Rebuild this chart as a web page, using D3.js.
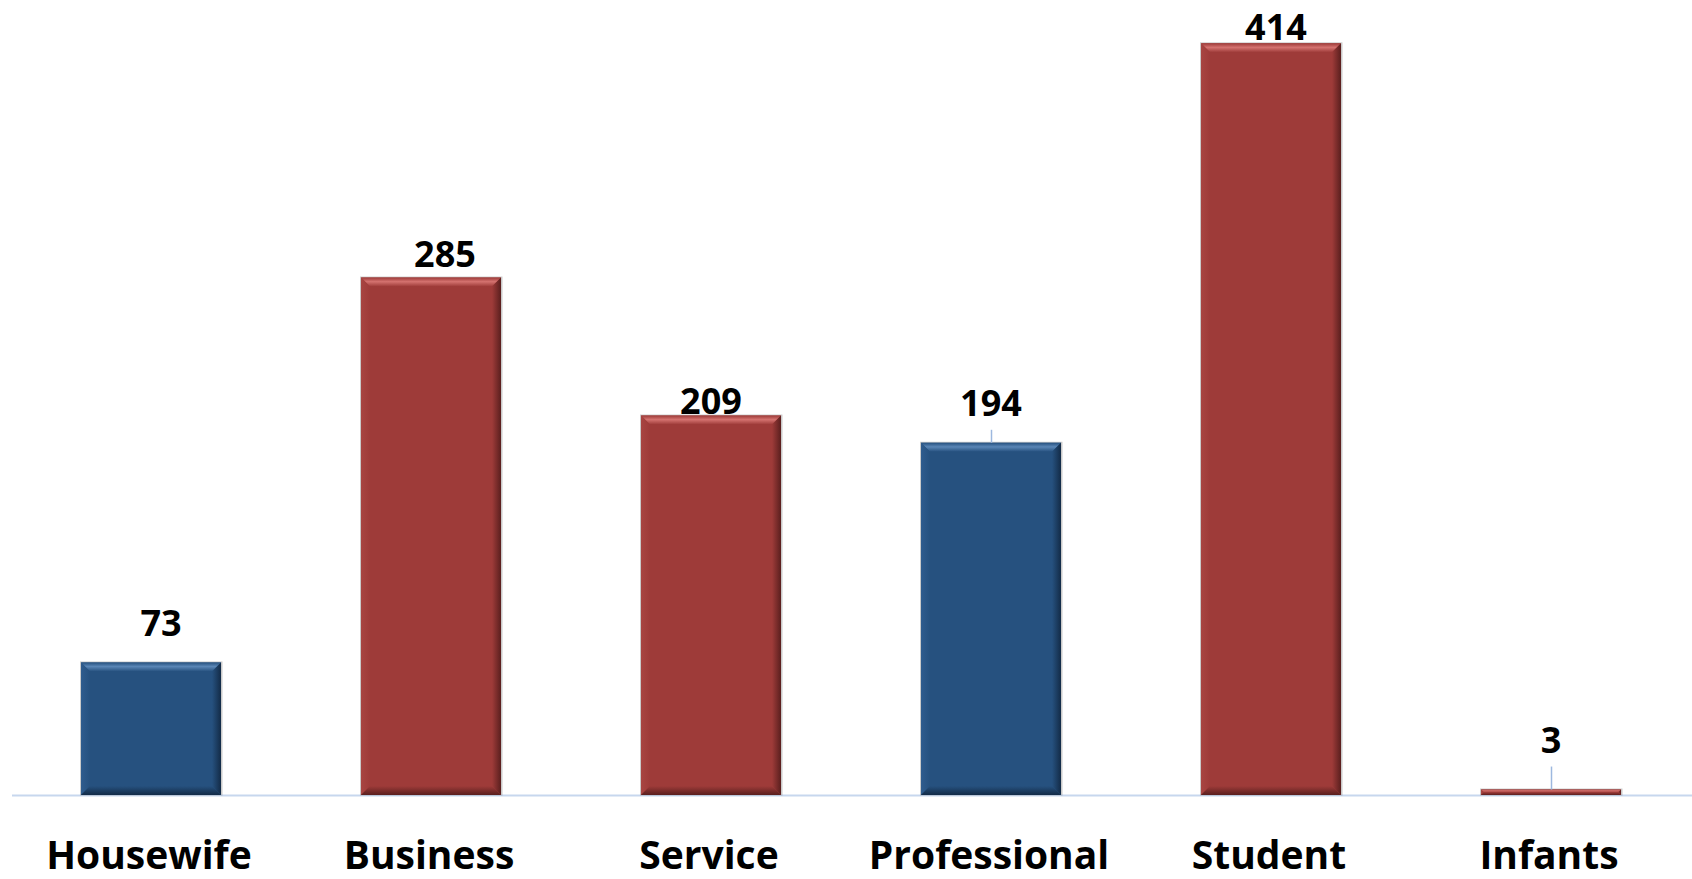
<!DOCTYPE html>
<html>
<head>
<meta charset="utf-8">
<script src="https://cdn.jsdelivr.net/npm/d3@7/dist/d3.min.js"></script>
<style>
  html, body { margin: 0; padding: 0; background: #ffffff; }
  svg { display: block; }
  text { font-family: "Open Sans", "DejaVu Sans", sans-serif; font-weight: 700; fill: #000; }
</style>
</head>
<body>
<svg id="chart" width="1692" height="879"></svg>
<script>
// ---- data ----
const categories = ["Housewife", "Business", "Service", "Professional", "Student", "Infants"];
const values = [73, 285, 209, 194, 414, 3];
const colorGroup = ["blue", "red", "red", "blue", "red", "red"];

// ---- label placement tweaks (pixels, styling only) ----
const labelGap = [26, 11, 2, 27, 3, 37];
const labelDx = [10, 14, 0, 0, 5, 0];
const leaderLine = [false, false, false, true, false, true];

const W = 1692, H = 879;
const svg = d3.select("#chart");

const x = d3.scaleBand().domain(categories).range([11, 1691]).paddingInner(0.5).paddingOuter(0.25);
const y = d3.scaleLinear().domain([0, 450]).range([795, -22]);

const palette = {
  blue: { main: "#26517F", light: "#5A86B6", lightSide: "#2F5C8E", dark: "#132B47" },
  red:  { main: "#9E3B39", light: "#D4726F", lightSide: "#A84542", dark: "#5A1F1E" }
};

const defs = svg.append("defs");
Object.entries(palette).forEach(([k, c]) => {
  const g1 = defs.append("linearGradient").attr("id", "top-" + k).attr("x1", 0).attr("y1", 0).attr("x2", 0).attr("y2", 1);
  g1.append("stop").attr("offset", "0%").attr("stop-color", c.main);
  g1.append("stop").attr("offset", "45%").attr("stop-color", c.light);
  g1.append("stop").attr("offset", "100%").attr("stop-color", c.main);
  const g2 = defs.append("linearGradient").attr("id", "left-" + k).attr("x1", 0).attr("y1", 0).attr("x2", 1).attr("y2", 0);
  g2.append("stop").attr("offset", "0%").attr("stop-color", c.lightSide);
  g2.append("stop").attr("offset", "100%").attr("stop-color", c.main);
  const g3 = defs.append("linearGradient").attr("id", "right-" + k).attr("x1", 0).attr("y1", 0).attr("x2", 1).attr("y2", 0);
  g3.append("stop").attr("offset", "0%").attr("stop-color", c.main);
  g3.append("stop").attr("offset", "100%").attr("stop-color", c.dark);
  const g4 = defs.append("linearGradient").attr("id", "bottom-" + k).attr("x1", 0).attr("y1", 0).attr("x2", 0).attr("y2", 1);
  g4.append("stop").attr("offset", "0%").attr("stop-color", c.main);
  g4.append("stop").attr("offset", "100%").attr("stop-color", c.dark);
});

// baseline
svg.append("line")
  .attr("x1", 12).attr("x2", W)
  .attr("y1", y(0) + 0.5).attr("y2", y(0) + 0.5)
  .attr("stroke", "#C7D7EE").attr("stroke-width", 2);

const data = categories.map((c, i) => ({ c, v: values[i], g: colorGroup[i], i }));

const bars = svg.append("g").selectAll("g").data(data).join("g");

bars.each(function(d) {
  const g = d3.select(this);
  const x0 = x(d.c), w = x.bandwidth();
  const y0 = y(d.v), y1 = y(0);
  const h = y1 - y0;
  const b = Math.min(9, h / 2);
  const c = palette[d.g];
  // soft shadow outline
  g.append("rect").attr("x", x0 - 1).attr("y", y0 - 1).attr("width", w + 2.5).attr("height", h + 1.5)
    .attr("fill", "#8a8a8a").attr("opacity", 0.45);
  g.append("rect").attr("x", x0).attr("y", y0).attr("width", w).attr("height", h).attr("fill", c.main);
  const x1 = x0 + w;
  // top bevel
  g.append("polygon").attr("points", [[x0, y0], [x1, y0], [x1 - b, y0 + b], [x0 + b, y0 + b]].join(" "))
    .attr("fill", `url(#top-${d.g})`);
  // left bevel
  g.append("polygon").attr("points", [[x0, y0], [x0 + b, y0 + b], [x0 + b, y1 - b], [x0, y1]].join(" "))
    .attr("fill", `url(#left-${d.g})`);
  // right bevel
  g.append("polygon").attr("points", [[x1, y0], [x1, y1], [x1 - b, y1 - b], [x1 - b, y0 + b]].join(" "))
    .attr("fill", `url(#right-${d.g})`);
  // bottom bevel
  g.append("polygon").attr("points", [[x0, y1], [x0 + b, y1 - b], [x1 - b, y1 - b], [x1, y1]].join(" "))
    .attr("fill", `url(#bottom-${d.g})`);
});

// leader lines
svg.append("g").selectAll("line").data(data.filter(d => leaderLine[d.i])).join("line")
  .attr("x1", d => x(d.c) + x.bandwidth() / 2 + 0.5)
  .attr("x2", d => x(d.c) + x.bandwidth() / 2 + 0.5)
  .attr("y1", d => y(d.v) - labelGap[d.i] + 14)
  .attr("y2", d => y(d.v))
  .attr("stroke", "#9DB8DF").attr("stroke-width", 1.5);

// value labels
svg.append("g").selectAll("text").data(data).join("text")
  .attr("x", d => x(d.c) + x.bandwidth() / 2 + labelDx[d.i])
  .attr("y", d => y(d.v) - labelGap[d.i])
  .attr("text-anchor", "middle")
  .attr("font-size", 36)
  .text(d => d.v);

// category labels
svg.append("g").selectAll("text").data(categories).join("text")
  .attr("x", d => x(d) + x.bandwidth() / 2 - 2)
  .attr("y", 869)
  .attr("text-anchor", "middle")
  .attr("font-size", 39)
  .text(d => d);
</script>
</body>
</html>
